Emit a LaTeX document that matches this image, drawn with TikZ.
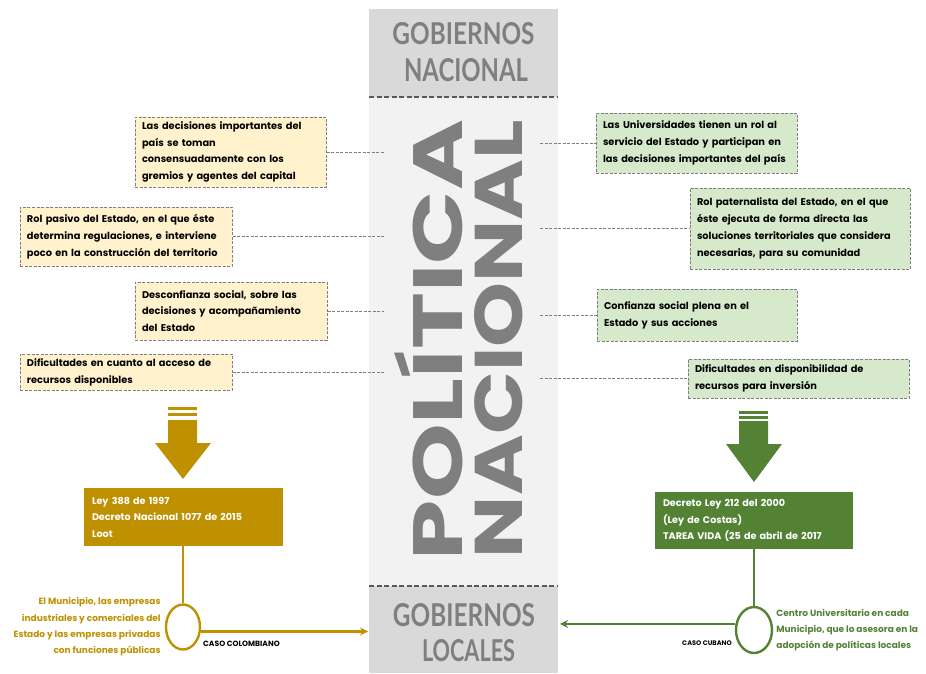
\documentclass[tikz,border=0pt]{standalone}
\usepackage{fontspec}
\usepackage{graphicx}
\setmainfont{Poppins}
\newfontfamily\headfont{Lato}
\usetikzlibrary{shapes,arrows.meta,positioning,calc}
\definecolor{gold}{HTML}{BF9000}
\definecolor{leaf}{HTML}{548235}
\definecolor{cream}{HTML}{FFF2CC}
\definecolor{mint}{HTML}{D6EACB}
\definecolor{colmid}{HTML}{F2F2F2}
\definecolor{colend}{HTML}{D9D9D9}
\definecolor{greytext}{HTML}{7F7F7F}
\definecolor{boxline}{HTML}{7F7F7F}
\definecolor{sepgrey}{HTML}{595959}
\newcommand\boxfont{\fontsize{9.8}{16.8}\selectfont\bfseries}
\tikzstyle{ybox} = [rectangle, draw=boxline, dash pattern=on 3pt off 1.5pt, line width=1pt, fill=cream, align=left, inner xsep=7pt, inner ysep=2pt, font=\boxfont]
\tikzstyle{gbox} = [ybox, fill=mint]
\tikzstyle{link} = [draw=boxline, dash pattern=on 3pt off 1.5pt, line width=0.9pt]
\tikzstyle{lawbox} = [rectangle, text=white, align=left, inner xsep=8pt, font=\fontsize{9.6}{16.5}\selectfont\bfseries]
\tikzstyle{ring} = [ellipse, line width=2.4pt, inner sep=0pt]
\tikzstyle{caselabel} = [font=\fontsize{6.6}{7}\selectfont\bfseries, inner sep=0pt]
\tikzstyle{sidetext} = [font=\fontsize{9}{16.3}\selectfont\bfseries, inner sep=0pt]
\tikzstyle{headtext} = [text=greytext, inner sep=0pt, font=\headfont\bfseries]
\tikzstyle{sepline} = [draw=sepgrey, line width=2.5pt, dash pattern=on 5pt off 2.5pt]

\begin{document}
\begin{tikzpicture}[x=1pt, y=-1pt]
	\useasboundingbox (0,0) rectangle (926,673);
	% central column
	\fill[colmid] (369,97) rectangle (558,586);
	\fill[colend] (369,9) rectangle (558,97);
	\fill[colend] (369,586) rectangle (558,673);
	\draw[sepline] (369,97) -- (558,97);
	\draw[sepline] (369,586) -- (558,586);

	\node (gobtop) [headtext] at (463.5,34) {\resizebox{142pt}{22pt}{GOBIERNOS}};
	\node (nactop) [headtext] at (466,70) {\resizebox{124pt}{23pt}{NACIONAL}};
	\node (gobbot) [headtext] at (464,615) {\resizebox{142pt}{23pt}{GOBIERNOS}};
	\node (locbot) [headtext] at (468.5,651) {\resizebox{93pt}{22pt}{LOCALES}};

	\node (pol) [rotate=90, inner sep=0pt, text=greytext] at (429,340) {\resizebox{440pt}{68pt}{\bfseries POLÍTICA}};
	\node (nac) [rotate=90, inner sep=0pt, text=greytext] at (499,339) {\resizebox{438pt}{48pt}{\bfseries NACIONAL}};

	\coordinate (colL) at (384,0);
	\coordinate (colR) at (540,0);

	% left side
	\node (lA) [ybox, minimum width=191pt, minimum height=70pt, text width=177pt] at (230.5,152) {Las decisiones importantes del\\país se toman\\consensuadamente con los\\gremios y agentes del capital};
	\node (lB) [ybox, minimum width=212pt, minimum height=59pt, text width=198pt] at (126,236.5) {Rol pasivo del Estado, en el que éste\\determina regulaciones, e interviene\\poco en la construcción del territorio};
	\node (lC) [ybox, minimum width=192pt, minimum height=58pt, text width=178pt] at (231,311) {Desconfianza social, sobre las\\decisiones y acompañamiento\\del Estado};
	\node (lD) [ybox, minimum width=212pt, minimum height=36pt, text width=198pt] at (126,372) {Dificultades en cuanto al acceso de\\recursos disponibles};

	% right side
	\node (rA) [gbox, minimum width=201pt, minimum height=60pt, text width=187pt] at (696.5,143) {Las Universidades tienen un rol al\\servicio del Estado y participan en\\las decisiones importantes del país};
	\node (rB) [gbox, minimum width=220pt, minimum height=81pt, text width=206pt] at (800,228.5) {Rol paternalista del Estado, en el que\\éste ejecuta de forma directa las\\soluciones territoriales que considera\\necesarias, para su comunidad};
	\node (rC) [gbox, minimum width=200pt, minimum height=52pt, text width=186pt] at (697,315) {Confianza social plena en el\\Estado y sus acciones};
	\node (rD) [gbox, minimum width=221pt, minimum height=39pt, text width=207pt] at (798.5,378.5) {Dificultades en disponibilidad de\\recursos para inversión};

	\foreach \b in {lA,lB,lC,lD}
		\draw[link] (\b.east) -- (\b.east -| colL);
	\foreach \b in {rA,rB,rC,rD}
		\draw[link] (colR |- \b.west) -- (\b.west);

	% colombian case
	\fill[gold] (168,407) rectangle (197,410);
	\fill[gold] (168,413) rectangle (197,416);
	\fill[gold] (168,420) -- (197,420) -- (197,443) -- (211,443) -- (183,479) -- (155,443) -- (168,443) -- cycle;
	\node (lawA) [lawbox, fill=gold, minimum width=199pt, minimum height=58pt, text width=183pt] at (183.5,517) {Ley 388 de 1997\\Decreto Nacional 1077 de 2015\\Loot};
	\node (munA) [ring, draw=gold, minimum width=34pt, minimum height=45pt] at (183,627) {};
	\node (entA) [sidetext, text=gold, align=right, left=4pt of munA] {El Municipio, las empresas\\industriales y comerciales del\\Estado y las empresas privadas\\con funciones públicas};
	\coordinate (locL) at (368,0);
	\draw[gold, line width=2.2pt] (lawA.south -| munA.north) -- (munA.north);
	\draw[gold, line width=2.2pt, -{Stealth[length=8pt,width=8pt]}] (munA.-14) -- (munA.-14 -| locL);
	\node (caseA) [caselabel, font=\fontsize{7.6}{8}\selectfont\bfseries, anchor=west] at (203,644) {CASO COLOMBIANO};

	% cuban case
	\fill[leaf] (739,411) rectangle (768,414);
	\fill[leaf] (739,416) rectangle (768,419);
	\fill[leaf] (739,421) -- (768,421) -- (768,444) -- (782,444) -- (754,482) -- (726,444) -- (739,444) -- cycle;
	\node (lawB) [lawbox, fill=leaf, minimum width=198pt, minimum height=57pt, text width=182pt] at (754,520.5) {Decreto Ley 212 del 2000\\(Ley de Costas)\\TAREA VIDA (25 de abril de 2017};
	\node (munB) [ring, draw=leaf, minimum width=36pt, minimum height=46pt] at (754,630) {};
	\node (entB) [sidetext, text=leaf, align=left, right=3pt of munB] {Centro Universitario en cada\\Municipio, que lo asesora en la\\adopción de políticas locales};
	\coordinate (locR) at (560,0);
	\draw[leaf, line width=2.2pt] (lawB.south) -- (munB.north);
	\draw[leaf, line width=2.2pt, -{Stealth[length=8pt,width=8pt]}] (munB.162) -- (munB.162 -| locR);
	\node (caseB) [caselabel, anchor=east] at (732,643) {CASO CUBANO};
\end{tikzpicture}
\end{document}
